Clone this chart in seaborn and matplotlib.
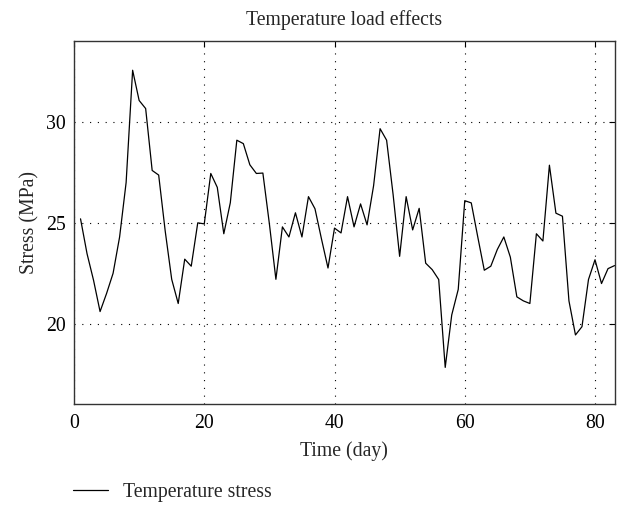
import matplotlib
matplotlib.use("Agg")
import matplotlib.pyplot as plt
import seaborn as sns
import pandas as pd

days = list(range(1, 84))
stress = [25.2, 23.47, 22.15, 20.6, 21.5, 22.5, 24.3, 27.0, 32.57, 31.07,
          30.67, 27.6, 27.37, 24.6, 22.2, 21.0, 23.2, 22.85, 25.0, 24.95,
          27.45, 26.76, 24.46, 26.0, 29.1, 28.93, 27.88, 27.45, 27.47, 24.95,
          22.2, 24.8, 24.3, 25.5, 24.3, 26.3, 25.7, 24.2, 22.76, 24.74,
          24.5, 26.3, 24.8, 25.94, 24.9, 26.84, 29.67, 29.1, 26.4, 23.34,
          26.3, 24.65, 25.72, 23.0, 22.68, 22.19, 17.83, 20.43, 21.7, 26.1,
          25.99, 24.3, 22.65, 22.85, 23.68, 24.3, 23.3, 21.33, 21.13, 21.0,
          24.46, 24.1, 27.86, 25.48, 25.33, 21.13, 19.44, 19.85, 22.19, 23.17,
          21.99, 22.73, 22.88]
x_ticks = [0, 20, 40, 60, 80]
y_ticks = [20, 25, 30]

sns.set_style("white")
plt.rcParams['font.family'] = ['Liberation Serif', 'DejaVu Serif']

df = pd.DataFrame({"Time (day)": days, "Stress (MPa)": stress,
                   "series": "Temperature stress"})

fs = 14.2
fig = plt.figure(figsize=(6.22, 5.05), dpi=100)
ax = fig.add_axes([0.119, 0.1994, 0.869, 0.7186])
sns.lineplot(data=df, x="Time (day)", y="Stress (MPa)", hue="series",
             palette=["#000000"], linewidth=0.9, ax=ax, legend=False)

ax.set_xlim(0, 83)
ax.set_ylim(16, 34)
ax.set_xticks(x_ticks)
ax.set_yticks(y_ticks)
ax.grid(True, color="black", linestyle=(0, (1, 6)), linewidth=0.8)
ax.tick_params(direction="in", length=4, width=0.8, top=True, right=True,
               labelsize=fs, colors="black")
ax.tick_params(axis="x", pad=7)
ax.tick_params(axis="y", pad=6)
for s in ax.spines.values():
    s.set_color("#333333")
    s.set_linewidth(1.0)
ax.set_xlabel("Time (day)", fontsize=fs, labelpad=6)
ax.set_ylabel("Stress (MPa)", fontsize=fs, labelpad=5)
ax.set_title("Temperature load effects", fontsize=fs, pad=12)

handle = ax.get_lines()[0]
fig.legend([handle], ["Temperature stress"], loc="center left",
           bbox_to_anchor=(0.104, 0.025), borderaxespad=0, frameon=False,
           fontsize=fs, handlelength=1.8, handletextpad=0.75)

fig.savefig("out.png", dpi=100)
